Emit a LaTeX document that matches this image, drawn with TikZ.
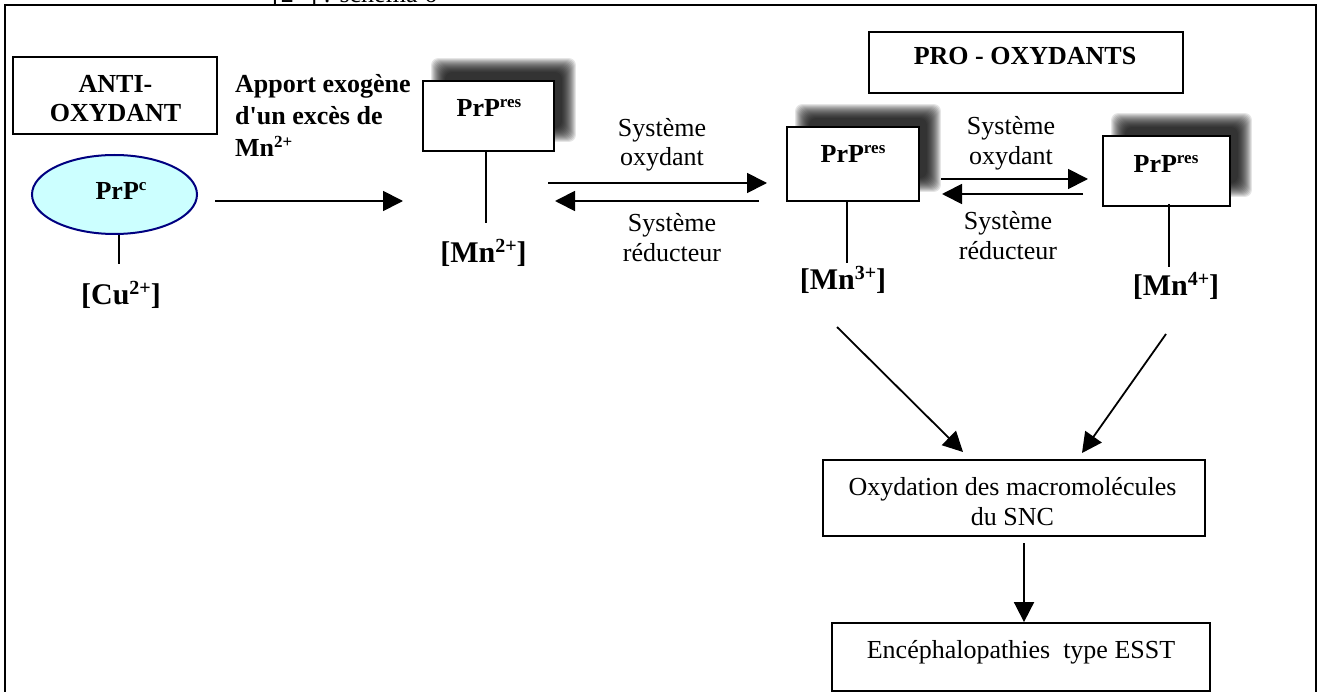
\documentclass[tikz,border=0pt]{standalone}
\usepackage{fontspec}
\setmainfont{Liberation Serif}
\usetikzlibrary{arrows.meta,calc,backgrounds,shapes.geometric}
\definecolor{cyanfill}{HTML}{CCFFFF}
\definecolor{navyline}{HTML}{000080}
\newcommand\supS[1]{\raisebox{9.5pt}{\fontsize{17}{17}\selectfont #1}}
\newcommand\supL[1]{\raisebox{10.5pt}{\fontsize{20}{20}\selectfont #1}}
\begin{document}
\begin{tikzpicture}[x=1pt,y=-1pt,
  reg/.style={font=\fontsize{26}{30}\selectfont, inner sep=0pt, anchor=base},
  bld/.style={font=\bfseries\fontsize{26}{30}\selectfont, inner sep=0pt, anchor=base},
  big/.style={font=\bfseries\fontsize{30}{34}\selectfont, inner sep=0pt, anchor=base},
  box/.style={draw, line width=1.8pt, fill=white, inner sep=0pt},
  arr/.style={line width=1.8pt, -{Triangle[length=20pt,width=20pt]}},
  stem/.style={line width=1.5pt},
]
\useasboundingbox (0,0) rectangle (1321,692);
\clip (0,0) rectangle (1321,692);

% clipped caption and frame
\node[reg, anchor=base west] (cap) at (272,3) {[2+] : schéma 6};
\draw[line width=2pt] (5,700) -- (5,5) -- (1316,5) -- (1316,700);

% boxes
\node[box, minimum width=204, minimum height=77] (anti) at (115,95.5) {};
\node[box, minimum width=131, minimum height=70] (b1) at (488.5,116) {};
\node[box, minimum width=314, minimum height=61] (pro) at (1026,62.5) {};
\node[box, minimum width=132, minimum height=74] (b2) at (853,164) {};
\node[box, minimum width=127, minimum height=70] (b3) at (1166.5,171) {};
\node[box, minimum width=382, minimum height=76] (ox) at (1014,498) {};
\node[box, minimum width=378, minimum height=68] (es) at (1021,657) {};
\node[ellipse, draw=navyline, fill=cyanfill, line width=2pt, minimum width=165, minimum height=79, inner sep=0pt] (pc) at (114.5,194.5) {};

% blurred shadows
\begin{pgfonlayer}{background}
\foreach \n in {b1,b2,b3}{
  \foreach \r in {-8,-7,...,6}{
    \fill[black,opacity=0.1,rounded corners=7pt] ($(\n.south west)+(15-\r,-16+\r)$) rectangle ($(\n.north east)+(15+\r,-16-\r)$);
  }
}
\end{pgfonlayer}

% texts
\node[bld] (antiA) at (115.5,93) {ANTI-};
\node[bld] (antiB) at (115.5,122) {OXYDANT};
\node[bld, anchor=base west] (ap1) at (235,93) {Apport exogène};
\node[bld, anchor=base west] (ap2) at (235,125) {d\textquotesingle un excès de};
\node[bld, anchor=base west] (ap3) at (235,157) {Mn\supS{2+}};
\node[bld] (pcT) at (121,200) {PrP\supS{c}};
\node[big] (cu) at (121,305) {[Cu\supL{2+}]};
\node[bld] (b1T) at (489,117) {PrP\supS{res}};
\node[big] (mn2) at (483.5,263) {[Mn\supL{2+}]};
\node[reg] (so1a) at (662,137) {Système};
\node[reg] (so1b) at (662,166) {oxydant};
\node[reg] (sr1a) at (672,232) {Système};
\node[reg] (sr1b) at (672,262) {réducteur};
\node[bld] (proT) at (1025,65) {PRO - OXYDANTS};
\node[bld] (b2T) at (853,163) {PrP\supS{res}};
\node[big] (mn3) at (843,290) {[Mn\supL{3+}]};
\node[reg] (so2a) at (1011,135) {Système};
\node[reg] (so2b) at (1011,165) {oxydant};
\node[reg] (sr2a) at (1008,230) {Système};
\node[reg] (sr2b) at (1008,260) {réducteur};
\node[bld] (b3T) at (1166,173) {PrP\supS{res}};
\node[big] (mn4) at (1176,296) {[Mn\supL{4+}]};
\node[reg] (oxA) at (1012.5,495) {Oxydation des macromolécules};
\node[reg] (oxB) at (1012.5,525) {du SNC};
\node[reg] (esT) at (1021,658) {Encéphalopathies\ \ type ESST};

% stems
\coordinate (s0) at (119,264);
\coordinate (s1) at (486,223);
\coordinate (s2) at (847,263);
\coordinate (s3) at (1169,267);
\draw[stem] (pc.south -| s0) -- (s0);
\draw[stem] (b1.south -| s1) -- (s1);
\draw[stem] (b2.south -| s2) -- (s2);
\draw[stem] ([yshift=3pt]b3.south -| s3) -- (s3);

% arrows
\coordinate (a0s) at (215,201);  \coordinate (a0e) at (403,201);
\coordinate (r1s) at (548,183);  \coordinate (r1e) at (767,183);
\coordinate (l1s) at (759,201);  \coordinate (l1e) at (555,201);
\coordinate (r2s) at (941,179);  \coordinate (r2e) at (1088,179);
\coordinate (l2s) at (1083,194); \coordinate (l2e) at (942,194);
\coordinate (d1s) at (837,327);  \coordinate (d1e) at (963,452);
\coordinate (d2s) at (1166,334); \coordinate (d2e) at (1082,453);
\coordinate (dns) at (1024,543);
\draw[arr] (a0s) -- (a0e);
\draw[arr] (r1s) -- (r1e);
\draw[arr] (l1s) -- (l1e);
\draw[arr] (r2s) -- (r2e);
\draw[arr] (l2s) -- (l2e);
\draw[arr] (d1s) -- (d1e);
\draw[arr] (d2s) -- (d2e);
\draw[arr] (dns) -- (es.north -| dns);
\end{tikzpicture}
\end{document}
